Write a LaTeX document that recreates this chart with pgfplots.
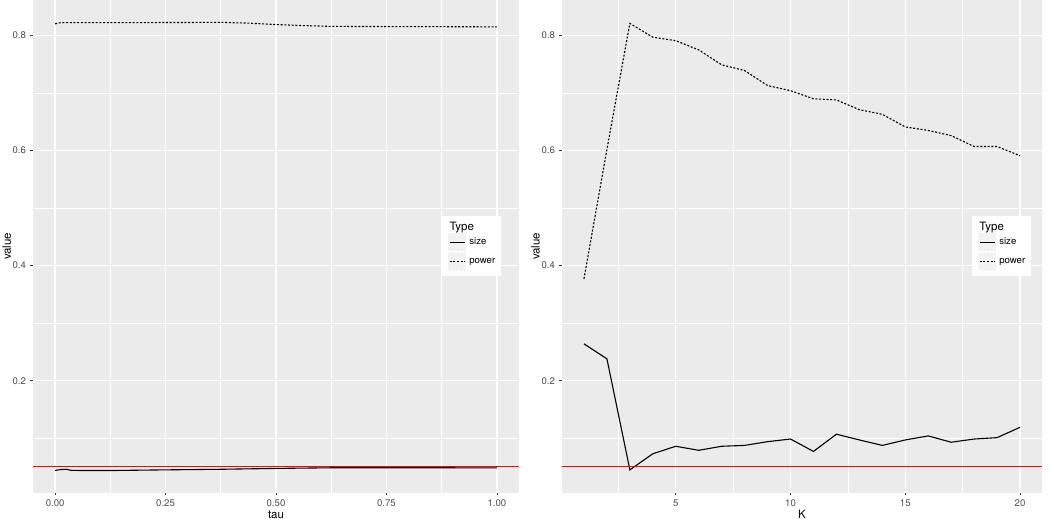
\documentclass[border=0pt]{standalone}
\usepackage{pgfplots}
\pgfplotsset{compat=1.18}
\usepackage{fontspec}
\setmainfont{TeX Gyre Heros}

\definecolor{ggbg}{HTML}{EBEBEB}
\definecolor{ggkey}{HTML}{F2F2F2}
\definecolor{ggtick}{HTML}{333333}
\definecolor{gglab}{HTML}{4D4D4D}

\pgfplotsset{
  ggpanel/.style={
    scale only axis,
    anchor=south west,
    height=492.7pt,
    ymin=0.0053, ymax=0.8617,
    axis background/.style={fill=ggbg},
    axis line style={draw=none},
    grid=both,
    major grid style={white, line width=1.4pt},
    minor grid style={white, line width=0.7pt},
    ytick={0.2,0.4,0.6,0.8},
    yticklabels={0.2,0.4,0.6,0.8},
    minor ytick={0.1,0.3,0.5,0.7},
    tick align=outside,
    tick pos=left,
    major tick length=2.75pt,
    minor tick length=0pt,
    tick style={ggtick, line width=0.6pt},
    xticklabel shift=1pt, yticklabel shift=0.8pt,
    ticklabel style={font=\fontsize{9.6}{11}\selectfont, text=gglab},
    /pgf/number format/assume math mode=true,
    every axis x label/.style={at={(axis description cs:0.5,0)}, anchor=base,
      yshift=-25.5pt, font=\fontsize{11.5}{13}\selectfont},
    legend cell align=left,
    legend style={anchor=north west, draw=none, fill=white,
      inner xsep=6pt, inner ysep=5pt, row sep=1pt, column sep=3pt,
      nodes={inner sep=0pt},
      font=\fontsize{9.6}{11}\selectfont},
    legend image code/.code={
      \fill[ggkey] (0pt,-8.65pt) rectangle (17.3pt,8.65pt);
      \draw[#1] (1.2pt,0pt) -- (16.1pt,0pt);},
  },
  sizeline/.style={black, line width=1.1pt},
  powerline/.style={black, line width=1.1pt, dash pattern=on 2pt off 1.7pt},
  refline/.style={red, line width=1pt, forget plot},
}

\newcommand{\legtitle}{%
  \addlegendimage{legend image code/.code={}}
  \addlegendentry{\makebox[0pt][l]{\hspace*{-20.3pt}\fontsize{11.5}{13}\selectfont\rule[-4.9pt]{0pt}{14.2pt}Type}}}

\begin{document}
\begin{tikzpicture}
\useasboundingbox (0,0) rectangle (1050pt,519pt);

% left panel: tau
\begin{axis}[ggpanel,
  at={(33pt,26.3pt)}, width=486pt,
  xmin=-0.05, xmax=1.05,
  xtick={0,0.25,0.5,0.75,1},
  xticklabels={0.00,0.25,0.50,0.75,1.00},
  minor xtick={0.125,0.375,0.625,0.875},
  xlabel={tau}, ylabel={value},
  every axis y label/.style={at={(axis description cs:-0.054,0.5)}, rotate=90,
    anchor=center, font=\fontsize{11.5}{13}\selectfont},
  legend style={at={(axis description cs:0.841,0.5616)}},
]
\legtitle
\addplot[sizeline] coordinates {
  (0,0.0440) (0.0125,0.0455) (0.025,0.0460) (0.0375,0.0440) (0.125,0.0438)
  (0.25,0.0450) (0.375,0.0460) (0.5,0.0475) (0.625,0.0486) (0.75,0.0487)
  (0.875,0.0486) (1,0.0485)};
\addlegendentry{size}
\addplot[powerline] coordinates {
  (0,0.8203) (0.0125,0.8222) (0.05,0.8224) (0.125,0.8224) (0.25,0.8225)
  (0.375,0.8228) (0.4375,0.8215) (0.5,0.8190) (0.5625,0.8172) (0.625,0.8158)
  (0.75,0.8155) (0.875,0.8153) (1,0.8150)};
\addlegendentry{power}
\addplot[refline] coordinates {(-0.05,0.05) (1.05,0.05)};
\end{axis}

% right panel: K
\begin{axis}[ggpanel,
  at={(562pt,26.3pt)}, width=480pt,
  xmin=0.043, xmax=20.957,
  xtick={5,10,15,20},
  minor xtick={2.5,7.5,12.5,17.5},
  xlabel={K}, ylabel={value},
  every axis y label/.style={at={(axis description cs:-0.055,0.5)}, rotate=90,
    anchor=center, font=\fontsize{11.5}{13}\selectfont},
  legend style={at={(axis description cs:0.8535,0.5616)}},
]
\legtitle
\addplot[sizeline] coordinates {
  (1,0.264) (2,0.238) (3,0.045) (4,0.073) (5,0.086) (6,0.079) (7,0.086)
  (8,0.0875) (9,0.094) (10,0.0986) (11,0.077) (12,0.107) (13,0.097)
  (14,0.0875) (15,0.097) (16,0.104) (17,0.093) (18,0.0986) (19,0.101) (20,0.119)};
\addlegendentry{size}
\addplot[powerline] coordinates {
  (1,0.377) (2,0.602) (3,0.821) (4,0.797) (5,0.791) (6,0.775) (7,0.749)
  (8,0.739) (9,0.713) (10,0.704) (11,0.690) (12,0.688) (13,0.671) (14,0.663)
  (15,0.641) (16,0.635) (17,0.626) (18,0.607) (19,0.607) (20,0.591)};
\addlegendentry{power}
\addplot[refline] coordinates {(0.043,0.05) (20.957,0.05)};
\end{axis}
\end{tikzpicture}
\end{document}
